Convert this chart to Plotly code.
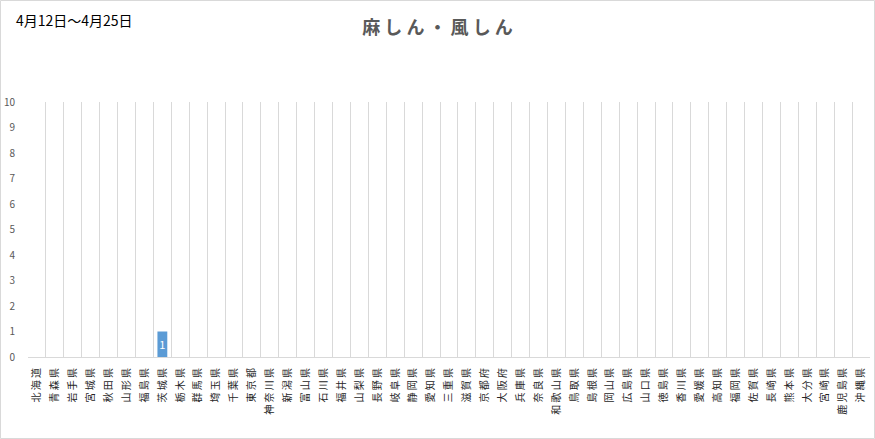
import plotly.graph_objects as go

prefectures = [
    "北海道", "青森県", "岩手県", "宮城県", "秋田県", "山形県", "福島県",
    "茨城県", "栃木県", "群馬県", "埼玉県", "千葉県", "東京都", "神奈川県",
    "新潟県", "富山県", "石川県", "福井県", "山梨県", "長野県", "岐阜県",
    "静岡県", "愛知県", "三重県", "滋賀県", "京都府", "大阪府", "兵庫県",
    "奈良県", "和歌山県", "鳥取県", "島根県", "岡山県", "広島県", "山口県",
    "徳島県", "香川県", "愛媛県", "高知県", "福岡県", "佐賀県", "長崎県",
    "熊本県", "大分県", "宮崎県", "鹿児島県", "沖縄県",
]
cases = [0] * len(prefectures)
cases[prefectures.index("茨城県")] = 1
bar_text = [str(v) if v else "" for v in cases]
# spaced-out labels like the original sheet
tick_text = [" ".join(p) for p in prefectures]

FONT = "Noto Sans CJK JP"
W, H = 875, 439
ML, MR, MT, MB = 28, 5, 102, 82
pw, ph = W - ML - MR, H - MT - MB

fig = go.Figure()
fig.add_trace(go.Bar(
    x=prefectures, y=cases, text=bar_text, textposition="inside",
    insidetextanchor="middle",
    textfont=dict(color="white", size=11, family=FONT),
    marker=dict(color="#5B9BD5", line=dict(width=0)),
    width=0.55, cliponaxis=False,
))

fig.update_layout(
    width=W, height=H,
    margin=dict(l=ML, r=MR, t=MT, b=MB),
    paper_bgcolor="white", plot_bgcolor="white",
    showlegend=False,
    font=dict(family=FONT, color="#595959"),
    title=dict(text="<b>" + " ".join("麻しん・風しん") + "</b>",
               x=0.5, xanchor="center", y=1 - 28 / H, yanchor="middle",
               font=dict(size=18, color="#595959", family=FONT)),
    uniformtext=dict(minsize=8, mode="show"),
)
fig.update_xaxes(
    type="category", tickangle=-90, tickson="boundaries",
    tickvals=prefectures, ticktext=tick_text,
    showgrid=True, gridcolor="#d9d9d9", gridwidth=1,
    showline=True, linecolor="#d9d9d9",
    ticks="", ticklabelstandoff=6,
    tickfont=dict(size=10, color="#262626", family=FONT),
)
fig.update_yaxes(
    range=[0, 10], dtick=1, showgrid=False, zeroline=False,
    showline=False, ticks="", ticklabelstandoff=12,
    tickfont=dict(size=10, color="#595959", family=FONT),
)
fig.add_annotation(
    text="4月12日～4月25日", xref="paper", yref="paper",
    x=(14 - ML) / pw, y=1 + (MT - 20) / ph, xanchor="left", yanchor="middle",
    showarrow=False, font=dict(size=14, color="#000000", family=FONT),
)
fig.add_shape(
    type="rect", xref="paper", yref="paper",
    x0=(0.5 - ML) / pw, x1=1 + (MR - 0.5) / pw,
    y0=-(MB - 0.5) / ph, y1=1 + (MT - 0.5) / ph,
    line=dict(color="#d9d9d9", width=1), layer="below",
)

fig.write_html(
    "out.html",
    config={"displayModeBar": False},
    post_script="document.body.style.margin='0';document.body.style.overflow='hidden';",
)
